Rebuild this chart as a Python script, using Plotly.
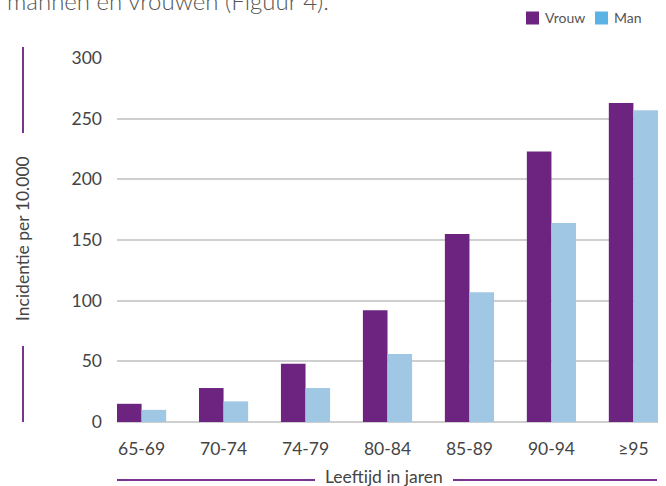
import plotly.graph_objects as go

categories = ["65-69", "70-74", "74-79", "80-84", "85-89", "90-94", "≥95"]
vrouw = [15, 28, 48, 92, 155, 223, 263]
man = [10, 17, 28, 56, 107, 164, 257]
y_ticks = [0, 50, 100, 150, 200, 250, 300]

W, H = 666, 486
L, R, T, B = 117, 8, 58, 64
PW = W - L - R
PH = H - T - B

def px(x):
    return (x - L) / PW

def py(y):
    return (H - B - y) / PH

PURPLE = "#6c2480"
BLUE = "#a0c7e3"
LEG_BLUE = "#5ab3e4"
TXT = "#444444"
FONT = "Lato"

fig = go.Figure()
fig.add_trace(go.Bar(name="Vrouw", x=categories, y=vrouw, marker=dict(color=PURPLE, line=dict(width=0))))
fig.add_trace(go.Bar(name="Man", x=categories, y=man, marker=dict(color=BLUE, line=dict(width=0))))

line_style = dict(color="#7b3391", width=2)
shapes = [
    dict(type="line", xref="paper", yref="paper", x0=px(23), x1=px(23), y0=py(47), y1=py(133), line=line_style),
    dict(type="line", xref="paper", yref="paper", x0=px(23), x1=px(23), y0=py(346), y1=py(422), line=line_style),
    dict(type="line", xref="paper", yref="paper", x0=px(117), x1=px(315), y0=py(480), y1=py(480), line=line_style),
    dict(type="line", xref="paper", yref="paper", x0=px(453), x1=px(657), y0=py(480), y1=py(480), line=line_style),
    # legend swatches
    dict(type="rect", xref="paper", yref="paper", x0=px(526), x1=px(539), y0=py(24.5), y1=py(11.5),
         fillcolor=PURPLE, line=dict(width=0)),
    dict(type="rect", xref="paper", yref="paper", x0=px(595), x1=px(608), y0=py(24.5), y1=py(11.5),
         fillcolor=LEG_BLUE, line=dict(width=0)),
]

annotations = [
    dict(text="Incidentie per 10.000", xref="paper", yref="paper", x=px(22), y=py(239),
         textangle=-90, showarrow=False, font=dict(family=FONT, size=17.5, color=TXT),
         xanchor="center", yanchor="middle"),
    dict(text="Leeftijd in jaren", xref="paper", yref="paper", x=px(384), y=py(477),
         showarrow=False, font=dict(family=FONT, size=17.5, color=TXT),
         xanchor="center", yanchor="middle"),
    dict(text="mannen en vrouwen (Figuur 4).", xref="paper", yref="paper", x=px(5), y=py(1),
         showarrow=False, font=dict(family=FONT, size=24, color="#555555", weight=300),
         xanchor="left", yanchor="middle"),
    dict(text="Vrouw", xref="paper", yref="paper", x=px(543), y=py(18),
         showarrow=False, font=dict(family=FONT, size=14, color="#555555"),
         xanchor="left", yanchor="middle"),
    dict(text="Man", xref="paper", yref="paper", x=px(612), y=py(18),
         showarrow=False, font=dict(family=FONT, size=14, color="#555555"),
         xanchor="left", yanchor="middle"),
]

fig.update_layout(
    width=W, height=H,
    margin=dict(l=L, r=R, t=T, b=B, autoexpand=False),
    paper_bgcolor="white", plot_bgcolor="white",
    barmode="group", bargap=0.4, bargroupgap=0,
    font=dict(family=FONT, color=TXT),
    shapes=shapes, annotations=annotations,
    showlegend=False,
)
fig.update_xaxes(range=[-0.3, 6.3], showgrid=False, showline=False, zeroline=False,
                 tickfont=dict(family=FONT, size=17.5, color=TXT), ticks="", ticklabelstandoff=14)
fig.update_yaxes(range=[0, 300], tickvals=y_ticks, showgrid=True, gridcolor="#cfcfcf", gridwidth=2,
                 zeroline=True, zerolinecolor="#cfcfcf", zerolinewidth=2, showline=False,
                 tickfont=dict(family=FONT, size=17.5, color=TXT), ticks="", ticklabelstandoff=14)

fig.write_html("out.html", config={"displayModeBar": False},
               post_script="document.body.style.margin='0';document.body.style.overflow='hidden';")
